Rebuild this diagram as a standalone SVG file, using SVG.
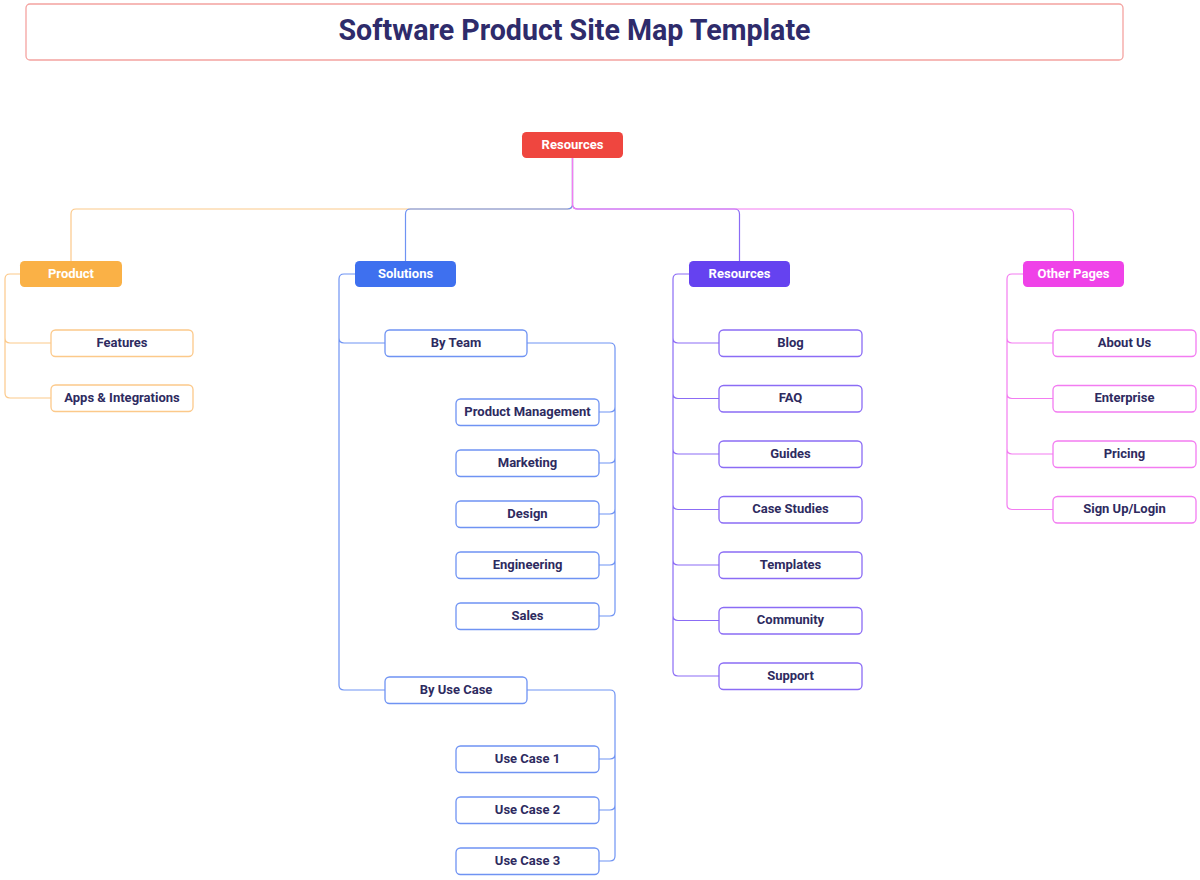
<svg xmlns="http://www.w3.org/2000/svg" width="1200" height="880" viewBox="0 0 1200 880">
<style>
text{font-family:Roboto,"Liberation Sans",sans-serif;font-weight:700;text-anchor:middle;dominant-baseline:central}
.t{font-size:28.6px;fill:#2e2b6b}
.h{font-size:13px;fill:#ffffff;transform:translateY(-1px)}
.n{font-size:13px;fill:#2e2b5f;transform:translateY(-1px)}
.c{fill:#ffffff;stroke-width:1.3}
.l{fill:none;stroke-width:1.2}
.o{stroke:#fcc98a}.b{stroke:#6f93f3}.p{stroke:#8b6cf5}.m{stroke:#f37cf1}
</style>
<rect width="1200" height="880" fill="#ffffff"/>
<g id="title"><rect x="26" y="4" width="1097" height="56" rx="4" fill="#fff" stroke="#f4a3a0" stroke-width="1.3"/><text class="t" x="574.5" y="30">Software Product Site Map Template</text></g>
<g id="connectors">
<path class="l o" d="M572.5,158 V204 Q572.5,209 567.5,209 H76 Q71,209 71,214 V261"/>
<path class="l b" d="M572.5,158 V204 Q572.5,209 567.5,209 H410.5 Q405.5,209 405.5,214 V261"/>
<path class="l p" d="M572.5,158 V204 Q572.5,209 577.5,209 H734.5 Q739.5,209 739.5,214 V261"/>
<path class="l m" d="M572.5,158 V204 Q572.5,209 577.5,209 H1068.5 Q1073.5,209 1073.5,214 V261"/>
<path class="l o" d="M20,274 H10 Q5,274 5,279 V338 Q5,343 10,343 H51 M5,338 V393 Q5,398 10,398 H51"/>
<path class="l b" d="M355,274 H344 Q339,274 339,279 V338 Q339,343 344,343 H385 M339,338 V685 Q339,690 344,690 H385"/>
<path class="l b" d="M527,343 H610 Q615,343 615,348 V407 Q615,412 610,412 H599 M615,407 V458 Q615,463 610,463 H599 M615,458 V509 Q615,514 610,514 H599 M615,509 V560 Q615,565 610,565 H599 M615,560 V611 Q615,616 610,616 H599"/>
<path class="l b" d="M527,690 H610 Q615,690 615,695 V754 Q615,759 610,759 H599 M615,754 V805 Q615,810 610,810 H599 M615,805 V856 Q615,861 610,861 H599"/>
<path class="l p" d="M689,274 H678 Q673,274 673,279 V338 Q673,343 678,343 H719 M673,338 V393.5 Q673,398.5 678,398.5 H719 M673,393.5 V449 Q673,454 678,454 H719 M673,449 V504.5 Q673,509.5 678,509.5 H719 M673,504.5 V560 Q673,565 678,565 H719 M673,560 V615.5 Q673,620.5 678,620.5 H719 M673,615.5 V671 Q673,676 678,676 H719"/>
<path class="l m" d="M1023,274 H1012 Q1007,274 1007,279 V338 Q1007,343 1012,343 H1053 M1007,338 V393.5 Q1007,398.5 1012,398.5 H1053 M1007,393.5 V449 Q1007,454 1012,454 H1053 M1007,449 V504.5 Q1007,509.5 1012,509.5 H1053"/>
</g>
<g id="root"><rect x="522" y="132" width="101" height="26" rx="4.5" fill="#ef463f"/><text class="h" x="572.5" y="145">Resources</text></g>
<g id="product"><rect x="20" y="261" width="102" height="26" rx="4.5" fill="#fab146"/><text class="h" x="71" y="274">Product</text></g>
<g id="solutions"><rect x="355" y="261" width="101" height="26" rx="4.5" fill="#3e70ef"/><text class="h" x="405.5" y="274">Solutions</text></g>
<g id="resources"><rect x="689" y="261" width="101" height="26" rx="4.5" fill="#6542f0"/><text class="h" x="739.5" y="274">Resources</text></g>
<g id="other-pages"><rect x="1023" y="261" width="101" height="26" rx="4.5" fill="#ef42e8"/><text class="h" x="1073.5" y="274">Other Pages</text></g>
<g id="features"><rect class="c o" x="51" y="330" width="142" height="26.5" rx="4.5"/><text class="n" x="122" y="343">Features</text></g>
<g id="apps"><rect class="c o" x="51" y="385" width="142" height="26.5" rx="4.5"/><text class="n" x="122" y="398">Apps &amp; Integrations</text></g>
<g id="by-team"><rect class="c b" x="385" y="330" width="142" height="26.5" rx="4.5"/><text class="n" x="456" y="343">By Team</text></g>
<g id="product-management"><rect class="c b" x="456" y="399" width="143" height="26.5" rx="4.5"/><text class="n" x="527.5" y="412">Product Management</text></g>
<g id="marketing"><rect class="c b" x="456" y="450" width="143" height="26.5" rx="4.5"/><text class="n" x="527.5" y="463">Marketing</text></g>
<g id="design"><rect class="c b" x="456" y="501" width="143" height="26.5" rx="4.5"/><text class="n" x="527.5" y="514">Design</text></g>
<g id="engineering"><rect class="c b" x="456" y="552" width="143" height="26.5" rx="4.5"/><text class="n" x="527.5" y="565">Engineering</text></g>
<g id="sales"><rect class="c b" x="456" y="603" width="143" height="26.5" rx="4.5"/><text class="n" x="527.5" y="616">Sales</text></g>
<g id="by-use-case"><rect class="c b" x="385" y="677" width="142" height="26.5" rx="4.5"/><text class="n" x="456" y="690">By Use Case</text></g>
<g id="use-case-1"><rect class="c b" x="456" y="746" width="143" height="26.5" rx="4.5"/><text class="n" x="527.5" y="759">Use Case 1</text></g>
<g id="use-case-2"><rect class="c b" x="456" y="797" width="143" height="26.5" rx="4.5"/><text class="n" x="527.5" y="810">Use Case 2</text></g>
<g id="use-case-3"><rect class="c b" x="456" y="848" width="143" height="26.5" rx="4.5"/><text class="n" x="527.5" y="861">Use Case 3</text></g>
<g id="blog"><rect class="c p" x="719" y="330" width="143" height="26.5" rx="4.5"/><text class="n" x="790.5" y="343">Blog</text></g>
<g id="faq"><rect class="c p" x="719" y="385.5" width="143" height="26.5" rx="4.5"/><text class="n" x="790.5" y="398.5">FAQ</text></g>
<g id="guides"><rect class="c p" x="719" y="441" width="143" height="26.5" rx="4.5"/><text class="n" x="790.5" y="454">Guides</text></g>
<g id="case-studies"><rect class="c p" x="719" y="496.5" width="143" height="26.5" rx="4.5"/><text class="n" x="790.5" y="509.5">Case Studies</text></g>
<g id="templates"><rect class="c p" x="719" y="552" width="143" height="26.5" rx="4.5"/><text class="n" x="790.5" y="565">Templates</text></g>
<g id="community"><rect class="c p" x="719" y="607.5" width="143" height="26.5" rx="4.5"/><text class="n" x="790.5" y="620.5">Community</text></g>
<g id="support"><rect class="c p" x="719" y="663" width="143" height="26.5" rx="4.5"/><text class="n" x="790.5" y="676">Support</text></g>
<g id="about-us"><rect class="c m" x="1053" y="330" width="143" height="26.5" rx="4.5"/><text class="n" x="1124.5" y="343">About Us</text></g>
<g id="enterprise"><rect class="c m" x="1053" y="385.5" width="143" height="26.5" rx="4.5"/><text class="n" x="1124.5" y="398.5">Enterprise</text></g>
<g id="pricing"><rect class="c m" x="1053" y="441" width="143" height="26.5" rx="4.5"/><text class="n" x="1124.5" y="454">Pricing</text></g>
<g id="sign-up"><rect class="c m" x="1053" y="496.5" width="143" height="26.5" rx="4.5"/><text class="n" x="1124.5" y="509.5">Sign Up/Login</text></g>
</svg>
